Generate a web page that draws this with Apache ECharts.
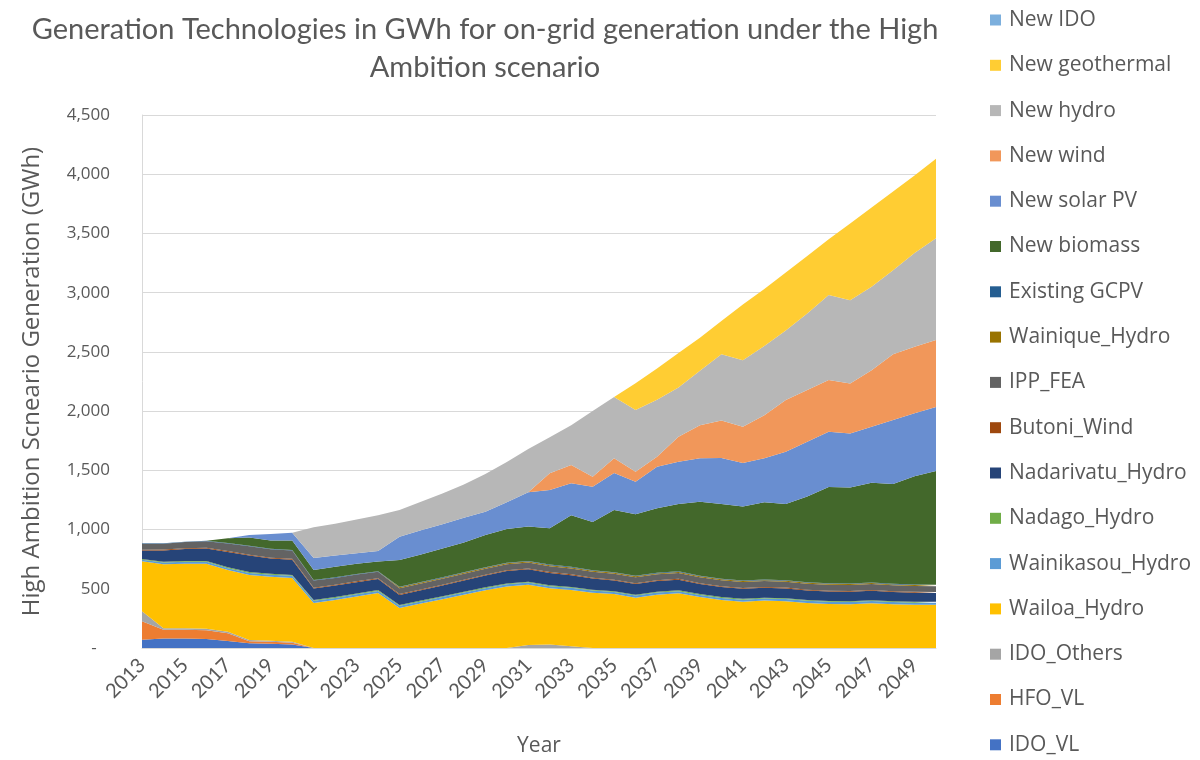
<!DOCTYPE html>
<html>
<head>
<meta charset="utf-8">
<script src="https://cdn.jsdelivr.net/npm/echarts@6/dist/echarts.min.js"></script>
<style>html,body{margin:0;padding:0;background:#fff}#c{width:1200px;height:760px}</style>
</head>
<body>
<div id="c"></div>
<script>
const years = ['2013','2014','2015','2016','2017','2018','2019','2020','2021','2022','2023','2024','2025','2026','2027','2028','2029','2030','2031','2032','2033','2034','2035','2036','2037','2038','2039','2040','2041','2042','2043','2044','2045','2046','2047','2048','2049','2050'];

const IDO_VL           = [70,80,80,75,60,40,35,30, 0,0,0,0,0,0,0,0,0,0,0,0,0,0,0,0,0,0,0,0,0,0,0,0,0,0,0,0,0,0];
const HFO_VL           = [155,75,75,75,65,18,18,15, 0,0,0,0,0,0,0,0,0,0,0,0,0,0,0,0,0,0,0,0,0,0,0,0,0,0,0,0,0,0];
const IDO_Others       = [85,12,12,12,13,10,8,8, 0,0,0,0,0,0,0,0,0,0,25,30,15,0,0,0,0,0,0,0,0,0,0,0,0,0,0,0,0,0];
const Wailoa_Hydro     = [422,540,545,550,520,548,540,538, 380,405,435,464,338,375,412,450,487,520,510,474,475,467,455,425,450,462,430,405,390,400,395,380,372,370,378,370,365,365];
const Wainikasou_Hydro = [14,15,16,16,16,18,18,18, 18,18,18,18,18,18,18,18,18,18,18,18,18,18,18,18,18,18,18,18,18,18,18,18,18,18,18,18,18,18];
const Nadago_Hydro     = [6,7,7,7,7,7,7,7, 7,7,7,7,7,7,7,7,7,7,7,7,7,7,7,7,7,7,7,7,7,7,7,7,7,7,7,7,7,7];
const Nadarivatu_Hydro = [72,95,100,105,130,140,130,130, 97,97,96,93,85,87,90,95,100,105,105,105,100,95,90,90,90,90,85,85,85,83,83,80,80,80,80,77,77,75];
const Butoni_Wind      = [6,7,7,7,7,7,7,7, 7,7,7,7,7,7,7,7,7,7,7,7,7,7,7,7,7,7,7,7,7,7,7,7,7,7,7,7,7,7];
const IPP_FEA          = [50,50,52,55,65,70,70,70, 60,58,57,55,50,50,50,50,50,50,50,50,50,50,50,50,50,50,50,50,50,50,50,50,50,50,50,50,50,50];
const Wainique_Hydro   = [0,0,0,0,0,0,0,0, 0,0,0,0,8,8,8,8,8,8,8,8,8,8,8,8,8,8,8,8,8,8,8,8,8,8,8,8,8,8];
const Existing_GCPV    = [4,4,4,4,4,5,5,5, 5,5,5,5,5,5,5,5,5,5,5,5,5,5,5,5,5,5,5,5,5,5,5,5,5,5,5,5,5,5];
const New_biomass      = [0,0,0,0,40,70,70,80, 84,88,87,81,225,233,243,250,272,285,290,308,435,406,525,520,545,568,625,630,625,652,642,725,813,810,842,843,913,960];
const New_solar_PV     = [0,0,0,0,0,20,55,65, 102,95,88,90,197,205,205,210,196,225,290,323,272,299,312,274,350,358,368,390,366,373,442,461,466,457,473,539,531,540];
const New_wind         = [0,0,0,0,0,0,0,0, 0,0,0,0,0,0,0,0,0,0,0,140,153,84,126,84,85,211,277,315,307,363,436,437,436,422,478,556,562,565];
const New_hydro        = [0,0,0,0,0,0,0,0, 260,270,285,300,225,240,260,280,320,340,365,305,335,554,517,522,480,416,460,560,562,584,587,647,718,703,704,710,792,860];
const New_geothermal   = [0,0,0,0,0,0,0,0, 0,0,0,0,0,0,0,0,0,0,0,0,0,0,0,225,265,290,280,280,470,480,490,485,470,648,670,665,655,670];
const New_IDO          = [0,0,0,0,0,0,0,0, 0,0,0,0,0,0,0,0,0,0,0,0,0,0,0,0,0,0,0,0,0,0,0,0,0,0,0,0,0,0];

const yTicks = [0,500,1000,1500,2000,2500,3000,3500,4000,4500];

const layers = [
  ['IDO_VL', IDO_VL, '#4472C4'],
  ['HFO_VL', HFO_VL, '#ED7D31'],
  ['IDO_Others', IDO_Others, '#A5A5A5'],
  ['Wailoa_Hydro', Wailoa_Hydro, '#FFC000'],
  ['Wainikasou_Hydro', Wainikasou_Hydro, '#5B9BD5'],
  ['Nadago_Hydro', Nadago_Hydro, '#70AD47'],
  ['Nadarivatu_Hydro', Nadarivatu_Hydro, '#264478'],
  ['Butoni_Wind', Butoni_Wind, '#9E480E'],
  ['IPP_FEA', IPP_FEA, '#636363'],
  ['Wainique_Hydro', Wainique_Hydro, '#997300'],
  ['Existing GCPV', Existing_GCPV, '#255E91'],
  ['New biomass', New_biomass, '#43682B'],
  ['New solar PV', New_solar_PV, '#698ED0'],
  ['New wind', New_wind, '#F1975A'],
  ['New hydro', New_hydro, '#B7B7B7'],
  ['New geothermal', New_geothermal, '#FFCD33'],
  ['New IDO', New_IDO, '#7CAFDD']
];

const FONT = 'Lato';
const FONT2 = 'Open Sans';
const TXT = '#595959';

const chart = echarts.init(document.getElementById('c'), null, {renderer: 'canvas'});
chart.setOption({
  animation: false,
  backgroundColor: '#fff',
  title: {
    text: 'Generation Technologies in GWh for on-grid generation under the High\nAmbition scenario',
    left: 480, top: 6, textAlign: 'center',
    textStyle: {fontFamily: FONT, fontSize: 29, fontWeight: 'normal', color: TXT, lineHeight: 38}
  },
  legend: {
    orient: 'vertical', left: 990, top: 9, padding: 0,
    itemWidth: 11, itemHeight: 11, itemGap: 23.3,
    icon: 'rect',
    data: layers.map(l => l[0]).slice().reverse(),
    textStyle: {fontFamily: FONT2, fontSize: 21, color: TXT, lineHeight: 22, padding: [0, 0, 0, 3]}
  },
  grid: {left: 142, right: 264, top: 115, bottom: 112, outerBoundsMode: 'none'},
  xAxis: {
    type: 'category', data: years, boundaryGap: false,
    name: 'Year', nameLocation: 'middle', nameGap: 88,
    nameTextStyle: {fontFamily: FONT2, fontSize: 21, color: TXT},
    axisLine: {lineStyle: {color: '#D9D9D9'}},
    axisTick: {show: false},
    axisLabel: {interval: 1, rotate: 45, margin: 14, fontFamily: FONT, fontSize: 20, color: TXT}
  },
  yAxis: {
    type: 'value', min: yTicks[0], max: yTicks[yTicks.length-1], interval: 500,
    name: 'High Ambition Scneario Generation (GWh)', nameLocation: 'middle', nameGap: 98,
    nameTextStyle: {fontFamily: FONT2, fontSize: 24, color: TXT},
    axisLine: {show: true, lineStyle: {color: '#D9D9D9'}},
    axisTick: {show: false},
    splitLine: {lineStyle: {color: '#D9D9D9'}},
    axisLabel: {
      margin: 32, fontFamily: FONT2, fontSize: 17, color: TXT,
      formatter: v => v === 0 ? '-   ' : v.toLocaleString('en-US')
    }
  },
  series: layers.map(l => ({
    name: l[0], type: 'line', stack: 'total', data: l[1],
    symbol: 'none', showSymbol: false,
    lineStyle: {width: 0, color: l[2]},
    itemStyle: {color: l[2]},
    areaStyle: {color: l[2], opacity: 1},
    emphasis: {disabled: true}
  }))
});
</script>
</body>
</html>
